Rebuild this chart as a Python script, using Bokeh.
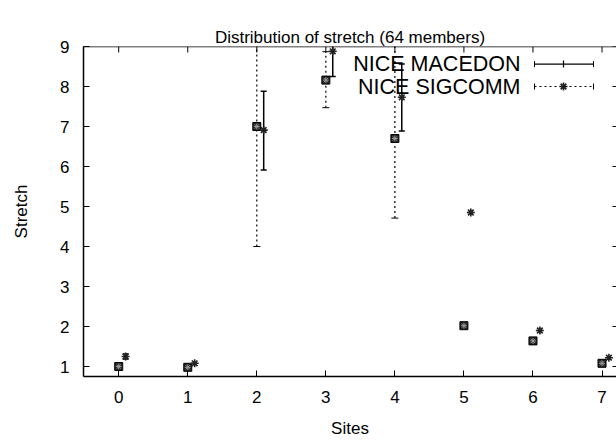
from bokeh.plotting import figure
from bokeh.models import Range1d, FixedTicker, Whisker, TeeHead, ColumnDataSource, Arrow, Span, LinearAxis
from bokeh.core.properties import value
from bokeh.embed import file_html
from bokeh.resources import INLINE

# ---- data ----
sites = [0, 1, 2, 3, 4, 5, 6, 7]
site_labels = ["0", "1", "2", "3", "4", "5", "6", "7"]
y_ticks = [1, 2, 3, 4, 5, 6, 7, 8, 9]

# NICE SIGCOMM (dotted error bars, at integer site positions)
sigcomm_y = [1.00, 0.98, 7.00, 8.16, 6.70, 2.02, 1.64, 1.08]
sigcomm_lo = [1.00, 0.98, 4.00, 7.47, 4.71, 2.02, 1.64, 1.08]
sigcomm_hi = [1.00, 0.98, 10.00, 8.87, 9.60, 2.02, 1.64, 1.08]

# NICE MACEDON (solid error bars, shifted right by 0.1)
macedon_y = [1.25, 1.08, 6.91, 8.88, 7.73, 4.85, 1.90, 1.22]
macedon_lo = [1.19, 1.08, 5.91, 8.25, 6.89, 4.85, 1.90, 1.22]
macedon_hi = [1.31, 1.08, 7.88, 9.51, 8.56, 4.85, 1.90, 1.22]
macedon_shift = 0.1

series_names = ["NICE MACEDON", "NICE SIGCOMM"]
title_text = "Distribution of stretch (64 members)"

FONT = "Liberation Sans"

# ---- layout ----
X0, X1 = -0.51, 7.21
Y0, Y1 = 0.75, 9.0
FW, FH = 533, 330

p = figure(width=616, height=441, output_backend="svg", toolbar_location=None,
           x_range=Range1d(X0, X1), y_range=Range1d(Y0, Y1),
           frame_width=FW, frame_height=FH,
           min_border_left=83, min_border_right=0, min_border_top=46, min_border_bottom=65)

bottom_ax = p.below[0]
left_ax = p.left[0]

for ax in (bottom_ax, left_ax):
    ax.axis_line_color = "black"
    ax.axis_line_width = 1.5
    ax.major_tick_line_color = "black"
    ax.major_tick_line_width = 1
    ax.major_tick_in = 6
    ax.major_tick_out = 0
    ax.minor_tick_line_color = None
    ax.major_label_text_font = FONT
    ax.major_label_text_font_size = "17px"
    ax.major_label_text_color = "black"
    ax.axis_label_text_font = FONT
    ax.axis_label_text_font_size = "17px"
    ax.axis_label_text_font_style = "normal"
    ax.axis_label_text_color = "black"

bottom_ax.ticker = FixedTicker(ticks=sites)
bottom_ax.major_label_overrides = {s: l for s, l in zip(sites, site_labels)}
bottom_ax.major_label_standoff = 14
bottom_ax.axis_label = "Sites"
bottom_ax.axis_label_standoff = 13
left_ax.ticker = FixedTicker(ticks=y_ticks)
left_ax.major_label_standoff = 14
left_ax.axis_label = "Stretch"
left_ax.axis_label_standoff = 26

# an empty spacer axis above the frame lifts the title away from the plot area
spacer = LinearAxis(ticker=FixedTicker(ticks=[]), axis_line_color=None, major_tick_line_color=None,
                    minor_tick_line_color=None, major_tick_in=0, major_tick_out=20,
                    major_label_standoff=0)
p.add_layout(spacer, "above")

p.title.text = title_text
p.title.align = "center"
p.title.standoff = 0
p.title.text_font = FONT
p.title.text_font_size = "17px"
p.title.text_font_style = "normal"
p.title.text_color = "black"
p.outline_line_color = None
p.background_fill_color = "white"
p.border_fill_color = "white"
p.xgrid.visible = False
p.ygrid.visible = False

ppx = FW / (X1 - X0)
ppy = FH / (Y1 - Y0)

def px_x(px):
    return X0 + px / ppx
def px_y(py):
    return Y1 - py / ppy

# top border with inward ticks, and mirrored inward ticks on the right edge
p.add_layout(Span(location=Y1, dimension="width", line_color="black", line_width=1.5))
p.segment(x0=sites, y0=[Y1] * len(sites), x1=sites, y1=[Y1 - 6 / ppy] * len(sites),
          line_color="black", line_width=1)
p.segment(x0=[X1 - 4 / ppx] * len(y_ticks), y0=y_ticks, x1=[X1] * len(y_ticks), y1=y_ticks,
          line_color="black", line_width=1)

# ---- SIGCOMM (dotted) ----
sig_src = ColumnDataSource(dict(x=sites, y=sigcomm_y))
sig_bar_idx = [i for i in range(len(sites)) if sigcomm_hi[i] > sigcomm_lo[i]]
sig_bar_src = ColumnDataSource(dict(x=[sites[i] for i in sig_bar_idx],
                                    lo=[sigcomm_lo[i] for i in sig_bar_idx],
                                    hi=[sigcomm_hi[i] for i in sig_bar_idx]))
p.add_layout(Whisker(source=sig_bar_src, base="x", lower="lo", upper="hi", dimension="height",
                     line_color="black", line_width=1.2, line_dash="2 3",
                     lower_head=TeeHead(size=7, line_color="black", line_width=1),
                     upper_head=TeeHead(size=7, line_color="black", line_width=1)))
p.scatter("x", "y", source=sig_src, marker="square", size=8, fill_color="#222222", line_color="black")
p.scatter("x", "y", source=sig_src, marker="asterisk", size=6, line_color="#9a9a9a", line_width=1)

# ---- MACEDON (solid) ----
mac_x = [s + macedon_shift for s in sites]
mac_src = ColumnDataSource(dict(x=mac_x, y=macedon_y))
mac_bar_idx = [i for i in range(len(sites)) if macedon_hi[i] > macedon_lo[i]]
mac_bar_src = ColumnDataSource(dict(x=[mac_x[i] for i in mac_bar_idx],
                                    lo=[macedon_lo[i] for i in mac_bar_idx],
                                    hi=[macedon_hi[i] for i in mac_bar_idx]))
p.add_layout(Whisker(source=mac_bar_src, base="x", lower="lo", upper="hi", dimension="height",
                     line_color="black", line_width=1.5,
                     lower_head=TeeHead(size=6, line_color="black", line_width=1.5),
                     upper_head=TeeHead(size=6, line_color="black", line_width=1.5)))
p.scatter("x", "y", source=mac_src, marker="asterisk", size=8, line_color="#222222", line_width=1.6)

# ---- legend (gnuplot style: text, then sample) ----
text_right = px_x(437)
sample_a, sample_b, sample_m = px_x(451), px_x(510), px_x(480)
rows = [px_y(17.6), px_y(40)]

p.text(x=[text_right, text_right], y=rows, text=series_names, text_align="right",
       text_baseline="middle", text_font=value(FONT), text_font_size="21.5px", text_color="black")
p.add_layout(Arrow(x_start=sample_a, y_start=rows[0], x_end=sample_b, y_end=rows[0],
                   line_color="black", line_width=1.2,
                   start=TeeHead(size=6, line_color="black", line_width=1),
                   end=TeeHead(size=6, line_color="black", line_width=1)))
p.add_layout(Arrow(x_start=sample_a, y_start=rows[1], x_end=sample_b, y_end=rows[1],
                   line_color="black", line_width=1.2, line_dash="2 3",
                   start=TeeHead(size=6, line_color="black", line_width=1),
                   end=TeeHead(size=6, line_color="black", line_width=1)))
p.scatter(x=[sample_m], y=[rows[0]], marker="dash", angle=1.5708, size=7, line_color="black", line_width=1.2)
p.scatter(x=[sample_m], y=[rows[1]], marker="asterisk", size=8, line_color="#222222", line_width=1.6)

open("out.html", "w").write(file_html(p, INLINE))
